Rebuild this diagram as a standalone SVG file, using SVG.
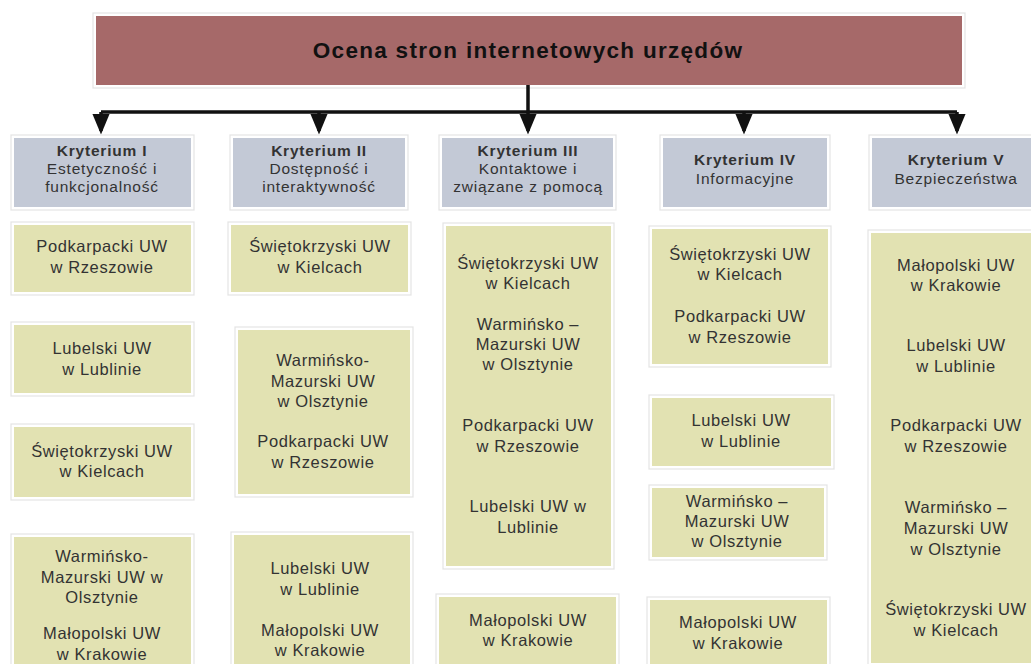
<svg xmlns="http://www.w3.org/2000/svg" width="1031" height="664" viewBox="0 0 1031 664">
<style>
  .frame { fill: #ffffff; stroke: #e4e4e4; stroke-width: 1.2; }
  .title { fill: #a66969; }
  .crit { fill: #c3c9d6; }
  .item { fill: #e2e2b2; }
  text { font-family: "Liberation Sans", Arial, sans-serif; fill: #333333; text-anchor: middle; }
  .tt { font-size: 22.5px; font-weight: bold; letter-spacing: 1.3px; fill: #111111; }
  .ch { font-size: 15.5px; font-weight: bold; letter-spacing: 0.8px; }
  .cs { font-size: 15.5px; letter-spacing: 0.8px; }
  .it { font-size: 16.5px; letter-spacing: 0.6px; }
  .conn { stroke: #111111; stroke-width: 3.5; fill: none; }
</style>
<defs>
  <marker id="ah" markerWidth="6" markerHeight="5" refX="5" refY="2.5" orient="auto" markerUnits="strokeWidth">
    <path d="M0,0 L6,2.5 L0,5 Z" fill="#111111"/>
  </marker>
</defs>
<rect width="1031" height="664" fill="#ffffff"/>

<g id="title">
  <rect class="frame" x="93" y="13" width="872" height="75"/>
  <rect class="title" x="96" y="16" width="866" height="69"/>
  <text class="tt" x="528" y="58">Ocena stron internetowych urzędów</text>
</g>

<g id="connectors">
  <path class="conn" d="M528,85 V112 M101,112 H957"/>
  <path class="conn" d="M101,112 V131" marker-end="url(#ah)"/>
  <path class="conn" d="M319,112 V131" marker-end="url(#ah)"/>
  <path class="conn" d="M528,112 V131" marker-end="url(#ah)"/>
  <path class="conn" d="M744,112 V131" marker-end="url(#ah)"/>
  <path class="conn" d="M957,112 V131" marker-end="url(#ah)"/>
</g>

<g id="k1">
  <rect class="frame" x="11" y="135" width="183" height="75"/>
  <rect class="crit" x="14" y="138" width="177" height="69"/>
  <text class="ch" x="102" y="156">Kryterium I</text>
  <text class="cs" x="102" y="174">Estetyczność i</text>
  <text class="cs" x="102" y="192">funkcjonalność</text>
</g>
<g id="k2">
  <rect class="frame" x="230" y="135" width="178" height="75"/>
  <rect class="crit" x="233" y="138" width="172" height="69"/>
  <text class="ch" x="319" y="156">Kryterium II</text>
  <text class="cs" x="319" y="174">Dostępność i</text>
  <text class="cs" x="319" y="192">interaktywność</text>
</g>
<g id="k3">
  <rect class="frame" x="439" y="135" width="177" height="75"/>
  <rect class="crit" x="442" y="138" width="171" height="69"/>
  <text class="ch" x="528" y="156">Kryterium III</text>
  <text class="cs" x="528" y="174">Kontaktowe i</text>
  <text class="cs" x="528" y="192">związane z pomocą</text>
</g>
<g id="k4">
  <rect class="frame" x="660" y="135" width="170" height="75"/>
  <rect class="crit" x="663" y="138" width="164" height="69"/>
  <text class="ch" x="745" y="165">Kryterium IV</text>
  <text class="cs" x="745" y="184">Informacyjne</text>
</g>
<g id="k5">
  <rect class="frame" x="869" y="135" width="165" height="75"/>
  <rect class="crit" x="872" y="138" width="162" height="69"/>
  <text class="ch" x="956" y="165">Kryterium V</text>
  <text class="cs" x="956" y="184">Bezpieczeństwa</text>
</g>

<!-- column 1 -->
<g id="c1b1">
  <rect class="frame" x="11" y="222" width="183" height="73"/>
  <rect class="item" x="14" y="225" width="177" height="67"/>
  <text class="it" x="102" y="252">Podkarpacki UW</text>
  <text class="it" x="102" y="273">w Rzeszowie</text>
</g>
<g id="c1b2">
  <rect class="frame" x="11" y="322" width="183" height="74"/>
  <rect class="item" x="14" y="325" width="177" height="68"/>
  <text class="it" x="102" y="354">Lubelski UW</text>
  <text class="it" x="102" y="375">w Lublinie</text>
</g>
<g id="c1b3">
  <rect class="frame" x="11" y="424" width="183" height="76"/>
  <rect class="item" x="14" y="427" width="177" height="70"/>
  <text class="it" x="102" y="457">Świętokrzyski UW</text>
  <text class="it" x="102" y="477">w Kielcach</text>
</g>
<g id="c1b4">
  <rect class="frame" x="11" y="534" width="183" height="140"/>
  <rect class="item" x="14" y="537" width="177" height="130"/>
  <text class="it" x="102" y="562">Warmińsko-</text>
  <text class="it" x="102" y="583">Mazurski UW w</text>
  <text class="it" x="102" y="603">Olsztynie</text>
  <text class="it" x="102" y="639">Małopolski UW</text>
  <text class="it" x="102" y="660">w Krakowie</text>
</g>

<!-- column 2 -->
<g id="c2b1">
  <rect class="frame" x="228" y="222" width="183" height="73"/>
  <rect class="item" x="231" y="225" width="177" height="67"/>
  <text class="it" x="320" y="252">Świętokrzyski UW</text>
  <text class="it" x="320" y="273">w Kielcach</text>
</g>
<g id="c2b2">
  <rect class="frame" x="235" y="327" width="178" height="170"/>
  <rect class="item" x="238" y="330" width="172" height="164"/>
  <text class="it" x="323" y="366">Warmińsko-</text>
  <text class="it" x="323" y="387">Mazurski UW</text>
  <text class="it" x="323" y="407">w Olsztynie</text>
  <text class="it" x="323" y="447">Podkarpacki UW</text>
  <text class="it" x="323" y="468">w Rzeszowie</text>
</g>
<g id="c2b3">
  <rect class="frame" x="231" y="532" width="182" height="140"/>
  <rect class="item" x="234" y="535" width="176" height="130"/>
  <text class="it" x="320" y="574">Lubelski UW</text>
  <text class="it" x="320" y="595">w Lublinie</text>
  <text class="it" x="320" y="636">Małopolski UW</text>
  <text class="it" x="320" y="656">w Krakowie</text>
</g>

<!-- column 3 -->
<g id="c3b1">
  <rect class="frame" x="443" y="223" width="171" height="346"/>
  <rect class="item" x="446" y="226" width="165" height="340"/>
  <text class="it" x="528" y="269">Świętokrzyski UW</text>
  <text class="it" x="528" y="289">w Kielcach</text>
  <text class="it" x="528" y="330">Warmińsko –</text>
  <text class="it" x="528" y="350">Mazurski UW</text>
  <text class="it" x="528" y="370">w Olsztynie</text>
  <text class="it" x="528" y="431">Podkarpacki UW</text>
  <text class="it" x="528" y="452">w Rzeszowie</text>
  <text class="it" x="528" y="512">Lubelski UW w</text>
  <text class="it" x="528" y="533">Lublinie</text>
</g>
<g id="c3b2">
  <rect class="frame" x="436" y="594" width="183" height="80"/>
  <rect class="item" x="439" y="597" width="177" height="70"/>
  <text class="it" x="528" y="626">Małopolski UW</text>
  <text class="it" x="528" y="646">w Krakowie</text>
</g>

<!-- column 4 -->
<g id="c4b1">
  <rect class="frame" x="649" y="226" width="182" height="141"/>
  <rect class="item" x="652" y="229" width="176" height="135"/>
  <text class="it" x="740" y="260">Świętokrzyski UW</text>
  <text class="it" x="740" y="280">w Kielcach</text>
  <text class="it" x="740" y="322">Podkarpacki UW</text>
  <text class="it" x="740" y="343">w Rzeszowie</text>
</g>
<g id="c4b2">
  <rect class="frame" x="649" y="395" width="185" height="74"/>
  <rect class="item" x="652" y="398" width="179" height="68"/>
  <text class="it" x="741" y="426">Lubelski UW</text>
  <text class="it" x="741" y="447">w Lublinie</text>
</g>
<g id="c4b3">
  <rect class="frame" x="649" y="485" width="178" height="75"/>
  <rect class="item" x="652" y="488" width="172" height="69"/>
  <text class="it" x="737" y="507">Warmińsko –</text>
  <text class="it" x="737" y="527">Mazurski UW</text>
  <text class="it" x="737" y="547">w Olsztynie</text>
</g>
<g id="c4b4">
  <rect class="frame" x="647" y="597" width="183" height="77"/>
  <rect class="item" x="650" y="600" width="177" height="70"/>
  <text class="it" x="738" y="628">Małopolski UW</text>
  <text class="it" x="738" y="649">w Krakowie</text>
</g>

<!-- column 5 -->
<g id="c5b1">
  <rect class="frame" x="868" y="230" width="166" height="436"/>
  <rect class="item" x="871" y="233" width="163" height="430"/>
  <text class="it" x="956" y="271">Małopolski UW</text>
  <text class="it" x="956" y="291">w Krakowie</text>
  <text class="it" x="956" y="351">Lubelski UW</text>
  <text class="it" x="956" y="372">w Lublinie</text>
  <text class="it" x="956" y="431">Podkarpacki UW</text>
  <text class="it" x="956" y="452">w Rzeszowie</text>
  <text class="it" x="956" y="513">Warmińsko –</text>
  <text class="it" x="956" y="534">Mazurski UW</text>
  <text class="it" x="956" y="555">w Olsztynie</text>
  <text class="it" x="956" y="615">Świętokrzyski UW</text>
  <text class="it" x="956" y="636">w Kielcach</text>
</g>
</svg>
